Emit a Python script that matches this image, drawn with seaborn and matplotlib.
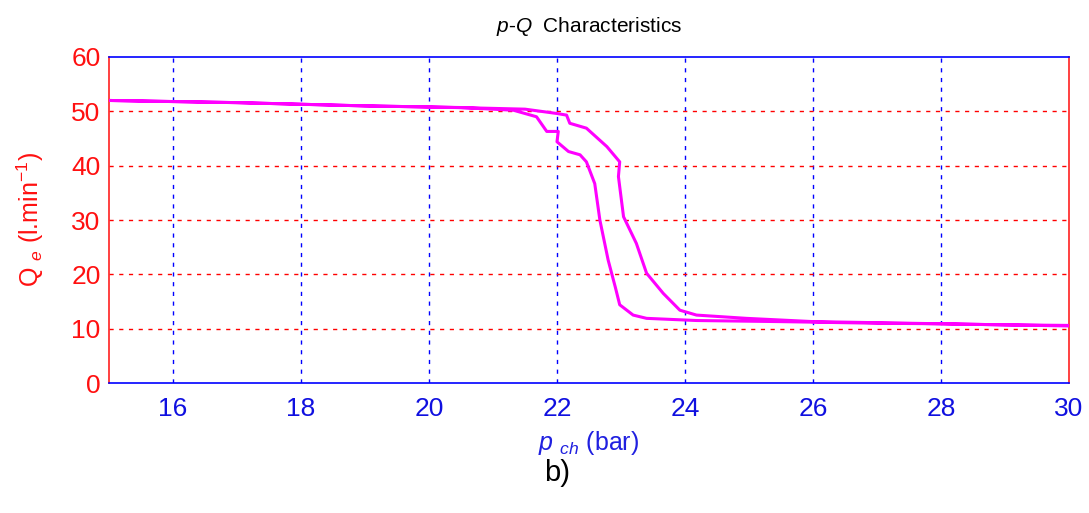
import matplotlib
matplotlib.use("Agg")
import matplotlib.pyplot as plt
import seaborn as sns
import pandas as pd
import numpy as np

# Rising-pressure branch (outer curve)
p_rise = [15.0, 16.0, 17.0, 18.0, 19.0, 20.0, 20.8, 21.5, 22.0, 22.15, 22.2, 22.46,
          22.78, 22.98, 22.96, 23.04, 23.24, 23.40, 23.66, 23.92, 24.18, 24.96, 25.48,
          26.0, 27.0, 28.0, 29.0, 30.0]
q_rise = [52.0, 51.8, 51.6, 51.3, 51.0, 50.8, 50.6, 50.4, 49.6, 49.3, 47.8, 46.9,
          43.5, 40.7, 38.0, 30.6, 25.7, 20.2, 16.5, 13.4, 12.5, 11.9, 11.6,
          11.3, 11.1, 10.9, 10.7, 10.6]
# Falling-pressure branch (inner curve)
p_fall = [30.0, 29.0, 28.0, 27.0, 26.0, 25.48, 24.18, 23.40, 23.19, 22.98, 22.91, 22.80,
          22.67, 22.59, 22.46, 22.36, 22.18, 22.00, 22.02, 21.84, 21.68, 21.32, 20.5,
          19.0, 17.0, 15.0]
q_fall = [10.5, 10.7, 10.9, 11.0, 11.2, 11.3, 11.5, 11.9, 12.5, 14.4, 17.7, 22.6,
          30.0, 36.7, 40.7, 42.0, 42.6, 44.4, 46.3, 46.3, 49.0, 50.2, 50.7,
          51.0, 51.6, 52.0]

x_ticks = [16, 18, 20, 22, 24, 26, 28, 30]
y_ticks = [0, 10, 20, 30, 40, 50, 60]

df = pd.DataFrame({"p": p_rise + p_fall, "q": q_rise + q_fall})

sns.set_theme(style="white")
plt.rcParams['font.family'] = ['Liberation Sans', 'DejaVu Sans']
plt.rcParams['mathtext.fontset'] = 'custom'
plt.rcParams['mathtext.rm'] = 'Liberation Sans'
plt.rcParams['mathtext.it'] = 'Liberation Sans:italic'

fig = plt.figure(figsize=(10.89, 5.13), dpi=100)
ax = fig.add_axes([0.1001, 0.2534, 0.8815, 0.6355])

sns.lineplot(data=df, x="p", y="q", sort=False, estimator=None, color="#FF00FF",
             lw=2.2, ax=ax, zorder=3)

ax.set_xlim(15, 30)
ax.set_ylim(0, 60)
ax.set_xticks(x_ticks)
ax.set_yticks(y_ticks)

for v in x_ticks[:-1]:
    ax.axvline(v, color="#0000FF", ls=(0, (3, 4)), lw=1.0, zorder=1)
for v in y_ticks[1:-1]:
    ax.axhline(v, color="#FF0000", ls=(0, (3, 4)), lw=1.0, zorder=1)

ax.spines['top'].set_color("#0000FF")
ax.spines['bottom'].set_color("#0000FF")
ax.spines['left'].set_color("#FF2020")
ax.spines['right'].set_color("#FF2020")
for s in ax.spines.values():
    s.set_linewidth(1.2)

ax.tick_params(axis='x', colors="#0000FF", labelcolor="#1010E0", labelsize=19,
               direction='in', length=5, pad=10)
ax.tick_params(axis='y', colors="#FF0000", labelcolor="#FF1010", labelsize=19,
               direction='in', length=5, pad=6)

ax.set_xlabel(r"$p$ $_{ch}$ (bar)", color="#2020E0", fontsize=18, labelpad=6)
ax.set_ylabel(r"Q $_e$ (l.min$^{\mathrm{-1}}$)", color="#FF1010", fontsize=18, labelpad=18)
ax.set_title(r"$p$-$Q$  Characteristics", fontsize=15, color="black", pad=18)

fig.text(0.512, 0.078, "b)", fontsize=21, color="black", ha="center", va="center")

fig.savefig("out.png", dpi=100)
